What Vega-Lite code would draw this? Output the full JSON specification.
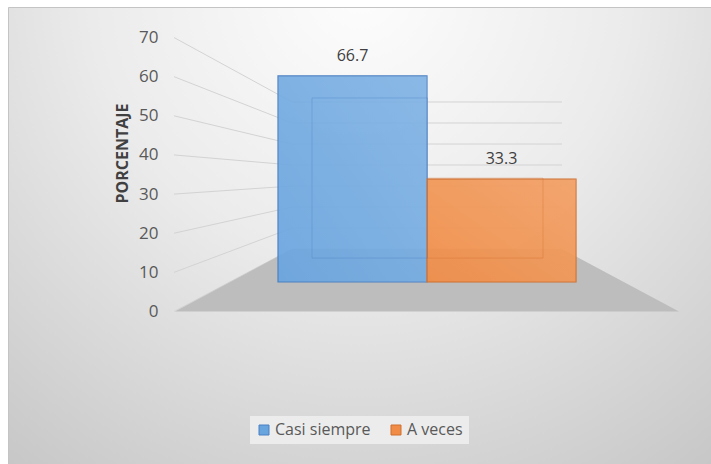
{
  "$schema": "https://vega.github.io/schema/vega-lite/v6.json",
  "width": 703,
  "height": 457,
  "autosize": {"type": "none"},
  "padding": {"left": 8, "top": 7, "right": 0, "bottom": 0},
  "background": "#ffffff",
  "config": {
    "font": "Open Sans",
    "view": {
      "stroke": "#c4c4c4",
      "strokeWidth": 1,
      "fill": {
        "gradient": "radial",
        "x1": 0.5, "y1": 0.15, "r1": 0,
        "x2": 0.5, "y2": 0.15, "r2": 0.85,
        "stops": [
          {"offset": 0, "color": "#fdfdfd"},
          {"offset": 0.45, "color": "#ebebeb"},
          {"offset": 1, "color": "#c6c6c6"}
        ]
      }
    }
  },
  "datasets": {
    "barras": [
      {"respuesta": "Casi siempre", "porcentaje": 66.7},
      {"respuesta": "A veces", "porcentaje": 33.3}
    ],
    "pared": [
      {"tick": 0, "nivelFondo": 15.97},
      {"tick": 10, "nivelFondo": 21.33},
      {"tick": 20, "nivelFondo": 26.7},
      {"tick": 30, "nivelFondo": 32.06},
      {"tick": 40, "nivelFondo": 37.43},
      {"tick": 50, "nivelFondo": 42.79},
      {"tick": 60, "nivelFondo": 48.16},
      {"tick": 70, "nivelFondo": 53.53}
    ],
    "suelo": [
      {"nivel": 0, "izq": -0.691, "der": 2.691},
      {"nivel": 15.97, "izq": 0.094, "der": 1.906}
    ]
  },
  "layer": [
    {
      "layer": [
        {
          "data": {"name": "pared"},
          "mark": {"type": "rule", "color": "#d3d3d3", "strokeWidth": 1},
          "encoding": {
            "x": {"datum": -0.698, "type": "quantitative", "scale": {"domain": [-1.812, 2.906], "nice": false, "zero": false}, "axis": null},
            "x2": {"datum": 0.094},
            "y": {
              "field": "tick", "type": "quantitative",
              "scale": {"domain": [-38.96, 77.8], "nice": false, "zero": false},
              "axis": {
                "values": [0, 10, 20, 30, 40, 50, 60, 70],
                "offset": -162,
                "domain": false, "ticks": false, "grid": false,
                "labelPadding": 12, "labelFontSize": 17, "labelColor": "#595959", "labelFont": "Open Sans",
                "title": "PORCENTAJE", "titleFontSize": 16, "titleFontWeight": "bold", "titleColor": "#404040", "titleFont": "Open Sans",
                "titleAngle": 270, "titleX": -48, "titleY": 146, "titleAlign": "center", "titleBaseline": "middle"
              }
            },
            "y2": {"field": "nivelFondo"}
          }
        },
        {
          "data": {"name": "pared"},
          "mark": {"type": "rule", "color": "#d3d3d3", "strokeWidth": 1},
          "encoding": {
            "x": {"datum": 0.094, "type": "quantitative", "scale": {"domain": [-1.812, 2.906], "nice": false, "zero": false}, "axis": null},
            "x2": {"datum": 1.906},
            "y": {
              "field": "nivelFondo", "type": "quantitative",
              "scale": {"domain": [-38.96, 77.8], "nice": false, "zero": false},
              "axis": {
                "values": [0, 10, 20, 30, 40, 50, 60, 70],
                "offset": -162,
                "domain": false, "ticks": false, "grid": false,
                "labelPadding": 12, "labelFontSize": 17, "labelColor": "#595959", "labelFont": "Open Sans",
                "title": "PORCENTAJE", "titleFontSize": 16, "titleFontWeight": "bold", "titleColor": "#404040", "titleFont": "Open Sans",
                "titleAngle": 270, "titleX": -48, "titleY": 146, "titleAlign": "center", "titleBaseline": "middle"
              }
            }
          }
        },
        {
          "data": {"name": "suelo"},
          "mark": {"type": "area", "orient": "horizontal", "color": "#bdbdbd", "opacity": 1},
          "encoding": {
            "y": {
              "field": "nivel", "type": "quantitative",
              "scale": {"domain": [-38.96, 77.8], "nice": false, "zero": false},
              "axis": {
                "values": [0, 10, 20, 30, 40, 50, 60, 70],
                "offset": -162,
                "domain": false, "ticks": false, "grid": false,
                "labelPadding": 12, "labelFontSize": 17, "labelColor": "#595959", "labelFont": "Open Sans",
                "title": "PORCENTAJE", "titleFontSize": 16, "titleFontWeight": "bold", "titleColor": "#404040", "titleFont": "Open Sans",
                "titleAngle": 270, "titleX": -48, "titleY": 146, "titleAlign": "center", "titleBaseline": "middle"
              }
            },
            "x": {"field": "izq", "type": "quantitative", "scale": {"domain": [-1.812, 2.906], "nice": false, "zero": false}, "axis": null},
            "x2": {"field": "der"}
          }
        }
      ]
    },
    {
      "data": {"name": "barras"},
      "layer": [
        {
          "mark": {"type": "bar", "fillOpacity": 0.92, "strokeWidth": 1.2},
          "encoding": {
            "x": {"field": "respuesta", "type": "nominal", "sort": null, "scale": {"domain": ["Casi siempre", "A veces"], "range": [270, 568], "paddingInner": 0, "paddingOuter": 0}, "axis": null},
            "y": {"field": "porcentaje", "type": "quantitative", "stack": null, "scale": {"domain": [-58.9, 89.0], "nice": false, "zero": false}, "axis": null},
            "y2": {"datum": 0},
            "color": {
              "field": "respuesta", "type": "nominal", "sort": null,
              "scale": {"domain": ["Casi siempre", "A veces"], "range": ["#68a4de", "#f08c45"]},
              "legend": {
                "title": null, "orient": "none", "legendX": 242, "legendY": 409, "direction": "horizontal",
                "symbolType": "square", "symbolSize": 100, "symbolStrokeWidth": 1, "symbolOpacity": 1,
                "labelFontSize": 16, "labelColor": "#595959", "labelFont": "Open Sans", "labelOffset": 3,
                "columnPadding": 17, "padding": 6, "fillColor": "#ececec"
              }
            },
            "stroke": {"field": "respuesta", "type": "nominal", "sort": null, "scale": {"domain": ["Casi siempre", "A veces"], "range": ["#4a80c2", "#d06e2c"]}, "legend": null}
          }
        },
        {
          "mark": {
            "type": "bar",
            "fill": {
              "gradient": "linear", "x1": 0, "y1": 1, "x2": 1, "y2": 0,
              "stops": [
                {"offset": 0, "color": "rgba(255,255,255,0)"},
                {"offset": 1, "color": "rgba(255,255,255,0.16)"}
              ]
            }
          },
          "encoding": {
            "x": {"field": "respuesta", "type": "nominal", "sort": null, "axis": null},
            "y": {"field": "porcentaje", "type": "quantitative", "stack": null, "axis": null},
            "y2": {"datum": 0}
          }
        },
        {
          "mark": {"type": "text", "dy": -20, "fontSize": 16, "color": "#404040", "baseline": "middle", "font": "Open Sans"},
          "encoding": {
            "x": {"field": "respuesta", "type": "nominal", "sort": null, "axis": null},
            "y": {"field": "porcentaje", "type": "quantitative", "axis": null},
            "text": {"field": "porcentaje", "type": "quantitative", "format": ".1f"}
          }
        }
      ]
    },
    {
      "data": {"name": "barras"},
      "mark": {"type": "bar", "filled": false, "strokeWidth": 1, "strokeOpacity": 0.35},
      "encoding": {
        "x": {"field": "respuesta", "type": "nominal", "sort": null, "scale": {"domain": ["Casi siempre", "A veces"], "range": [304, 535], "paddingInner": 0, "paddingOuter": 0}, "axis": null},
        "y": {"field": "porcentaje", "type": "quantitative", "stack": null, "scale": {"domain": [-85.8, 104.6], "nice": false, "zero": false}, "axis": null},
        "y2": {"datum": 0},
        "stroke": {"field": "respuesta", "type": "nominal", "sort": null, "legend": null}
      }
    }
  ],
  "resolve": {"scale": {"x": "independent", "y": "independent"}}
}
